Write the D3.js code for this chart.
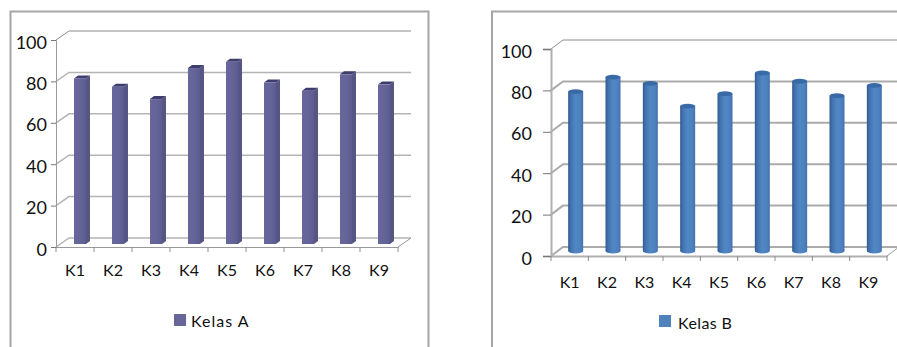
<!DOCTYPE html>
<html>
<head>
<meta charset="utf-8">
<script src="https://cdn.jsdelivr.net/npm/d3@7"></script>
<style>
  body { margin: 0; background: #fff; }
  text { font-family: Lato, sans-serif; fill: #111; }
</style>
</head>
<body>
<div id="chart"></div>
<script>
// Data
const categories = ["K1", "K2", "K3", "K4", "K5", "K6", "K7", "K8", "K9"];
const kelasA = [80, 76, 70, 85, 88, 78, 74, 82, 77];
const kelasB = [77, 84, 81, 70, 76, 86, 82, 75, 80];
const yTicks = [0, 20, 40, 60, 80, 100];

const svg = d3.select("#chart")
    .append("svg")
    .attr("width", 897)
    .attr("height", 347)
    .style("display", "block");

// Gradients for bar faces
const defs = svg.append("defs");
const addGradient = (id, stops) => {
    const g = defs.append("linearGradient").attr("id", id);
    stops.forEach(s => g.append("stop").attr("offset", s[0]).attr("stop-color", s[1]));
};
addGradient("boxFront", [[0, "#67679d"], [0.55, "#646499"], [1, "#5c5c90"]]);
addGradient("cyl", [[0, "#2f5a90"], [0.18, "#4273ae"], [0.5, "#5187c6"], [0.85, "#4c80bd"], [1, "#3f71ac"]]);

// Frames (they run off the bottom of the picture)
svg.append("path")
    .attr("d", "M10.5,347V11.5H428.5V347")
    .attr("fill", "none").attr("stroke", "#a6a6a6").attr("stroke-width", 2);
svg.append("path")
    .attr("d", "M492,347V11.5H897")
    .attr("fill", "none").attr("stroke", "#a6a6a6").attr("stroke-width", 2);

// Shared part of both panels: walls, floor, axes, labels, legend
function drawFrame(o) {
    const g = svg.append("g");
    const x = d3.scaleBand().domain(categories).range([o.left, o.right]);
    const y = d3.scaleLinear().domain([0, 100]).range([o.bottom, o.top]);

    // back wall grid lines with the diagonals coming from the axis
    yTicks.forEach(t => {
        g.append("path")
            .attr("d", `M${o.left},${y(t)}L${o.left + o.dx},${y(t) - o.dy}H${o.right + o.dx}`)
            .attr("fill", "none")
            .attr("stroke", t === 100 ? "#8c8c8c" : o.gridColor)
            .attr("stroke-width", t === 100 ? 1 : o.gridWidth);
    });

    // floor right edge
    g.append("line")
        .attr("x1", o.right).attr("y1", o.bottom)
        .attr("x2", o.right + o.dx).attr("y2", o.bottom - o.dy)
        .attr("stroke", "#999");

    // y axis
    const yAxis = g.append("g")
        .attr("transform", `translate(${o.left},0)`)
        .call(d3.axisLeft(y).tickValues(yTicks).tickSize(o.yTick).tickPadding(o.yPad));
    yAxis.selectAll("text").style("font-size", "18px").attr("dy", "8px");
    yAxis.selectAll("line").attr("stroke", "#777");
    yAxis.select(".domain").attr("stroke", o.axisColor).attr("stroke-width", o.axisWidth);

    // x axis: labels in the band centres, ticks on the band edges
    const xAxis = g.append("g")
        .attr("transform", `translate(0,${o.bottom})`)
        .call(d3.axisBottom(x).tickSize(0).tickPadding(o.xPad));
    xAxis.selectAll("text").style("font-size", "16px");
    xAxis.select(".domain").attr("stroke", o.axisColor).attr("stroke-width", o.axisWidth);
    g.selectAll("line.xtick")
        .data(categories.concat("end"))
        .enter()
        .append("line")
        .attr("class", "xtick")
        .attr("x1", d => d === "end" ? o.right : x(d))
        .attr("x2", d => d === "end" ? o.right : x(d))
        .attr("y1", o.bottom)
        .attr("y2", o.bottom + 5)
        .attr("stroke", "#8c8c8c");

    // legend
    g.append("rect")
        .attr("x", o.legendX).attr("y", o.legendY)
        .attr("width", 12).attr("height", 12)
        .attr("fill", o.legendColor);
    g.append("text")
        .attr("x", o.legendX + o.legendGap).attr("y", o.legendY + o.legendBase)
        .style("font-size", "16px")
        .style("letter-spacing", o.legendSpacing)
        .text(o.legendText);

    return {g, x, y};
}

// Left panel: square 3D columns
const a = drawFrame({
    left: 56, right: 398, top: 40, bottom: 247, dx: 13, dy: 9,
    gridColor: "#b4b4b4", gridWidth: 1.5,
    axisColor: "#999", axisWidth: 1, yTick: 5, yPad: 4, xPad: 17.5,
    legendX: 174, legendY: 314, legendGap: 17, legendBase: 13, legendSpacing: "1px",
    legendColor: "#66669b", legendText: "Kelas A"
});
const boxBase = 244, boxW = 12, boxDx = 4, boxDy = 3, boxShift = 5;
const boxH = d => (247 - a.y(d));
const boxX = (d, i) => a.x(categories[i]) + a.x.bandwidth() / 2 - boxW / 2 + boxShift;

a.g.selectAll("path.side")
    .data(kelasA)
    .enter()
    .append("path")
    .attr("class", "side")
    .attr("d", (d, i) => {
        const l = boxX(d, i) + boxW, t = boxBase - boxH(d);
        return `M${l},${t}l${boxDx},${-boxDy}V${boxBase - boxDy}l${-boxDx},${boxDy}Z`;
    })
    .attr("fill", "#555586");
a.g.selectAll("path.top")
    .data(kelasA)
    .enter()
    .append("path")
    .attr("class", "top")
    .attr("d", (d, i) => {
        const l = boxX(d, i), t = boxBase - boxH(d);
        return `M${l},${t}l${boxDx},${-boxDy}h${boxW}l${-boxDx},${boxDy}Z`;
    })
    .attr("fill", "#3e3e6e");
a.g.selectAll("rect.front")
    .data(kelasA)
    .enter()
    .append("rect")
    .attr("class", "front")
    .attr("x", boxX)
    .attr("y", d => boxBase - boxH(d))
    .attr("width", boxW)
    .attr("height", boxH)
    .attr("fill", "url(#boxFront)");

// Right panel: cylinders
const b = drawFrame({
    left: 551, right: 887, top: 49, bottom: 256, dx: 12, dy: 9,
    gridColor: "#ababab", gridWidth: 2,
    axisColor: "#b0b0b0", axisWidth: 2, yTick: 8, yPad: 11, xPad: 20.5,
    legendX: 659, legendY: 315, legendGap: 19, legendBase: 14, legendSpacing: "0.4px",
    legendColor: "#4f81bd", legendText: "Kelas B"
});
const cylBase = 251, cylRx = 7.5, cylRy = 2.4, cylShift = 6;
const cylC = (d, i) => b.x(categories[i]) + b.x.bandwidth() / 2 + cylShift;
const cylH = d => (256 - b.y(d));

b.g.selectAll("path.body")
    .data(kelasB)
    .enter()
    .append("path")
    .attr("class", "body")
    .attr("d", (d, i) => {
        const c = cylC(d, i), t = cylBase - cylH(d);
        return `M${c - cylRx},${t}V${cylBase}A${cylRx},${cylRy} 0 0 0 ${c + cylRx},${cylBase}V${t}Z`;
    })
    .attr("fill", "url(#cyl)");
b.g.selectAll("ellipse.cap")
    .data(kelasB)
    .enter()
    .append("ellipse")
    .attr("class", "cap")
    .attr("cx", cylC)
    .attr("cy", d => cylBase - cylH(d))
    .attr("rx", cylRx)
    .attr("ry", cylRy)
    .attr("fill", "#3a6aa6");
</script>
</body>
</html>
